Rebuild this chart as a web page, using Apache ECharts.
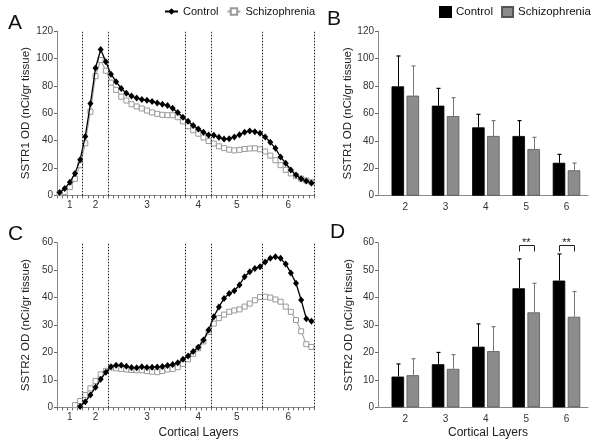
<!DOCTYPE html>
<html><head><meta charset="utf-8">
<script src="https://cdn.jsdelivr.net/npm/echarts@6/dist/echarts.min.js"></script>
<style>html,body{margin:0;padding:0;background:#fff}#c{width:600px;height:446px}</style>
</head><body><div id="c"></div>
<script>
// ---- profile panels (A, C): 50 depth bins across cortex ----
const layerLabels = ['1','2','3','4','5','6'];
const layerCenters = [2.5, 7.5, 17.5, 27.5, 35, 45];
const layerBoundaries = [5, 10, 25, 30, 40, 50];

const sstr1Control = [2, 5, 9.5, 16, 26, 43, 67, 93, 106.5, 97.5, 88.5, 83, 78, 74.5, 72.5, 71, 70, 69.5, 68.5, 67.5,
  66.5, 65.5, 63.5, 60.5, 57, 54, 51, 48.5, 46, 44, 43.8, 42.4, 41.1, 41.3, 42.6, 44.3, 46, 47, 46.5, 45.3,
  42.6, 38.7, 34.3, 28, 23.4, 18.5, 14.8, 12, 10.5, 9];
const sstr1Schizo = [1.5, 2.5, 6, 12, 22, 38, 61, 87, 98.8, 91, 82.3, 77, 72, 69.2, 66.5, 64.9, 63.4, 61.9, 60.5, 59.5,
  58.8, 58.5, 58.5, 57, 54, 50.5, 47.5, 45, 42.2, 39.6, 37.8, 35.8, 34.5, 33.3, 32.8, 33.2, 33.8, 34.2, 34.3, 33.6,
  32, 29, 25.6, 22, 18.6, 16, 14, 12.2, 10.8, 9.5];
const sstr2Control = [null, null, null, null, 0.3, 2, 4.5, 7.3, 10.2, 12.8, 14.8, 15.3, 15.3, 15, 14.5, 14.4, 14.8, 14.5, 14.6, 14.7,
  14.9, 15.2, 15.6, 16.2, 17.5, 18.7, 20.3, 21.9, 24.5, 28.2, 33, 36.6, 39.7, 41.5, 42.5, 44.6, 47.6, 49.4, 50.6, 51.2,
  53, 54.3, 54.9, 54.3, 52.2, 49, 45.2, 39.1, 32.3, 31.4];
const sstr2Schizo = [null, null, null, 0.8, 2.3, 4.5, 6.9, 9.6, 12, 13.3, 14.5, 14.2, 14, 13.8, 13.6, 13.5, 13.5, 13.2, 13, 12.8,
  13.2, 13.8, 14, 14.6, 15.8, 17.5, 19.5, 21.5, 24, 27.5, 30.5, 32.5, 33.8, 34.8, 35.3, 35.7, 36.7, 37.8, 39, 40.2,
  40.3, 40, 39.3, 38.5, 36.7, 34.8, 31.8, 27.7, 23, 22];

// ---- bar panels (B, D) ----
const barLayers = [2, 3, 4, 5, 6];
const b1Control = [79.7, 65.6, 49.8, 43.5, 24.0];
const b1ControlTop = [101.8, 78.2, 59.3, 54.7, 30.1];
const b1Schizo = [72.9, 58.0, 43.5, 34.0, 18.5];
const b1SchizoTop = [94.5, 71.4, 54.7, 42.5, 23.8];
const b2Control = [11.2, 15.7, 22.1, 43.4, 46.2];
const b2ControlTop = [15.8, 20.0, 30.4, 54.1, 55.9];
const b2Schizo = [11.7, 14.0, 20.5, 34.6, 33.0];
const b2SchizoTop = [17.7, 19.2, 29.4, 45.2, 42.2];
const sigLayers = [5, 6];
const sigLevel = [59.1, 59.1];
const sigText = ['**', '**'];

const FONT = 'Liberation Sans, Arial, sans-serif';
const AX = '#8a8a8a';
const chart = echarts.init(document.getElementById('c'), null, {renderer: 'canvas'});

function toXY(arr) { return arr.map((v, i) => [i + 0.5, v]); }

function profileX(gi, withName) {
  return {
    gridIndex: gi, type: 'value', min: 0, max: 50, interval: 1,
    axisLine: {show: true, lineStyle: {color: AX}},
    axisTick: {show: true, length: 3, lineStyle: {color: '#666'}},
    splitLine: {show: false},
    axisLabel: {customValues: layerCenters, formatter: v => { const k = layerCenters.indexOf(v); return k >= 0 ? layerLabels[k] : ''; },
      fontSize: 10, color: '#333', margin: 5},
    name: withName ? 'Cortical Layers' : '', nameLocation: 'middle', nameGap: 19,
    nameTextStyle: {fontSize: 12, color: '#222', padding: [0, 0, 0, 26]}
  };
}
function barX(gi, withName) {
  return {
    gridIndex: gi, type: 'value', min: 1.3226, max: 6.5337,
    axisLine: {show: true, lineStyle: {color: AX}},
    axisTick: {show: false}, splitLine: {show: false},
    axisLabel: {customValues: barLayers, fontSize: 10, color: '#333', margin: 7},
    name: withName ? 'Cortical Layers' : '', nameLocation: 'middle', nameGap: 19,
    nameTextStyle: {fontSize: 12, color: '#222', padding: [0, 0, 0, 10]}
  };
}
function yAx(gi, max, interval, name, gap) {
  return {
    gridIndex: gi, type: 'value', min: 0, max: max, interval: interval,
    axisLine: {show: true, lineStyle: {color: AX}},
    axisTick: {show: true, length: 3, lineStyle: {color: '#666'}},
    splitLine: {show: false},
    axisLabel: {fontSize: 10, color: '#333', margin: 4},
    name: name, nameLocation: 'middle', nameGap: gap,
    nameTextStyle: {fontSize: 11.5, color: '#222'}
  };
}
function boundaryLines() {
  return {silent: true, symbol: 'none', label: {show: false}, animation: false,
    lineStyle: {color: '#222', type: [1.5, 1.5], width: 1},
    data: layerBoundaries.map(b => ({xAxis: b}))};
}
function ctrlLine(gi, arr, withMark) {
  const s = {name: 'Control', type: 'line', xAxisIndex: gi, yAxisIndex: gi, data: toXY(arr),
    symbol: 'diamond', symbolSize: [6, 7], itemStyle: {color: '#000'},
    lineStyle: {color: '#000', width: 1.3}, z: 4, connectNulls: false};
  if (withMark) s.markLine = boundaryLines();
  return s;
}
function schLine(gi, arr) {
  return {name: 'Schizophrenia', type: 'line', xAxisIndex: gi, yAxisIndex: gi, data: toXY(arr),
    symbol: 'rect', symbolSize: 5, itemStyle: {color: '#fff', borderColor: '#9a9a9a', borderWidth: 1},
    lineStyle: {color: '#a5a5a5', width: 1.1}, z: 3};
}
function bars(gi, name, vals, color, border) {
  return {name: name, type: 'bar', xAxisIndex: gi, yAxisIndex: gi,
    data: barLayers.map((l, i) => [l, vals[i]]), barWidth: 12.5, barGap: '20%',
    itemStyle: {color: color, borderColor: border, borderWidth: 0.8}, z: 2};
}
function errBars(gi, means, tops, offset, color) {
  return {name: 'err', type: 'custom', xAxisIndex: gi, yAxisIndex: gi, z: 3,
    data: barLayers.map((l, i) => [l, means[i], tops[i]]),
    renderItem: (params, api) => {
      const p0 = api.coord([api.value(0), api.value(1)]);
      const p1 = api.coord([api.value(0), api.value(2)]);
      const cx = Math.round(p0[0] + offset) + 0.5;
      return {type: 'group', children: [
        {type: 'line', shape: {x1: cx, y1: p0[1], x2: cx, y2: p1[1]}, style: {stroke: color, lineWidth: 1}},
        {type: 'line', shape: {x1: cx - 2, y1: p1[1], x2: cx + 2, y2: p1[1]}, style: {stroke: color, lineWidth: 1.2}}
      ]};
    }};
}

const option = {
  animation: false,
  textStyle: {fontFamily: FONT},
  grid: [
    {left: 57, top: 31, width: 257, height: 164.3},
    {left: 378, top: 31, width: 210, height: 164.7},
    {left: 57, top: 242.7, width: 257, height: 164.6},
    {left: 378, top: 242.7, width: 210, height: 164.6}
  ],
  xAxis: [profileX(0, false), barX(1, false), profileX(2, true), barX(3, true)],
  yAxis: [
    yAx(0, 120, 20, 'SSTR1 OD (nCi/gr tissue)', 25),
    yAx(1, 120, 20, 'SSTR1 OD (nCi/gr tissue)', 23),
    yAx(2, 60, 10, 'SSTR2 OD (nCi/gr tissue)', 25),
    yAx(3, 60, 10, 'SSTR2 OD (nCi/gr tissue)', 23)
  ],
  legend: [
    {data: ['Control', 'Schizophrenia'], left: 164, top: 6, padding: 0, itemWidth: 13, itemHeight: 8, itemGap: 8,
      textStyle: {fontSize: 11, color: '#111'}, selectedMode: false},
    {data: ['Control bars', 'Schizophrenia bars'], formatter: n => n.replace(' bars', ''),
      left: 439, top: 6, padding: 0, width: 160, orient: 'horizontal', icon: 'rect', itemWidth: 11, itemHeight: 10, itemGap: 8,
      textStyle: {fontSize: 11.5, color: '#111'}, selectedMode: false}
  ],
  graphic: [
    {type: 'text', left: 8, top: 13, style: {text: 'A', fontSize: 21, fill: '#111', fontFamily: FONT}},
    {type: 'text', left: 327, top: 9, style: {text: 'B', fontSize: 21, fill: '#111', fontFamily: FONT}},
    {type: 'text', left: 8, top: 224, style: {text: 'C', fontSize: 21, fill: '#111', fontFamily: FONT}},
    {type: 'text', left: 330, top: 222, style: {text: 'D', fontSize: 21, fill: '#111', fontFamily: FONT}}
  ],
  series: [
    ctrlLine(0, sstr1Control, true), schLine(0, sstr1Schizo),
    ctrlLine(2, sstr2Control, true), schLine(2, sstr2Schizo),
    bars(1, 'Control bars', b1Control, '#000', '#000'),
    bars(1, 'Schizophrenia bars', b1Schizo, '#8c8c8c', '#555'),
    errBars(1, b1Control, b1ControlTop, -7.5, '#000'),
    errBars(1, b1Schizo, b1SchizoTop, 7.5, '#777'),
    bars(3, 'Control bars', b2Control, '#000', '#000'),
    bars(3, 'Schizophrenia bars', b2Schizo, '#8c8c8c', '#555'),
    errBars(3, b2Control, b2ControlTop, -7.5, '#000'),
    errBars(3, b2Schizo, b2SchizoTop, 7.5, '#777'),
    {name: 'sig', type: 'custom', xAxisIndex: 3, yAxisIndex: 3, z: 4,
      data: sigLayers.map((l, i) => [l, sigLevel[i], i]),
      renderItem: (params, api) => {
        const p = api.coord([api.value(0), api.value(1)]);
        const x1 = Math.round(p[0] - 7.5) + 0.5, x2 = Math.round(p[0] + 7.5) + 0.5, y = Math.round(p[1]) + 0.5;
        return {type: 'group', children: [
          {type: 'polyline', shape: {points: [[x1, y + 6], [x1, y], [x2, y], [x2, y + 6]]},
            style: {stroke: '#222', fill: null, lineWidth: 1}},
          {type: 'text', style: {text: sigText[api.value(2)], x: p[0], y: y + 3, align: 'center', verticalAlign: 'bottom',
            fontSize: 11, fill: '#222', fontFamily: FONT}}
        ]};
      }}
  ]
};
chart.setOption(option);
</script>
</body></html>
